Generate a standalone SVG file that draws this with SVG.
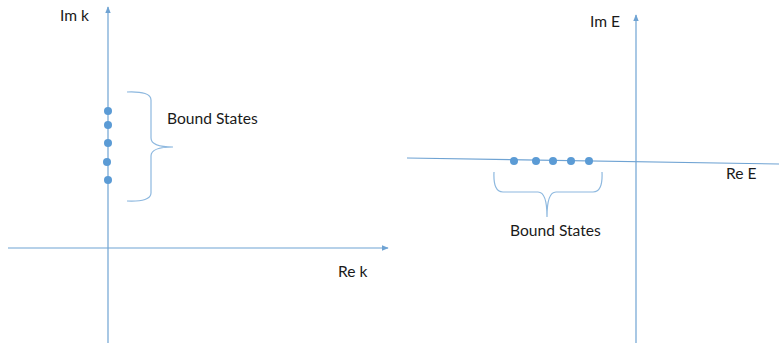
<svg xmlns="http://www.w3.org/2000/svg" width="779" height="347" viewBox="0 0 779 347">
<style>
.ax{stroke:#6fa3d3;stroke-width:1.2;fill:none}
.br{stroke:#8db8df;stroke-width:1.2;fill:none}
.dot{fill:#5b9bd5}
text{font-family:Lato,"Liberation Sans",sans-serif;font-size:15.6px;fill:#1a1a1a}
</style>
<defs>
<marker id="ar" viewBox="0 0 10 10" refX="9" refY="5" markerWidth="7" markerHeight="7" orient="auto" markerUnits="userSpaceOnUse">
<path d="M0,1 L10,5 L0,9 z" fill="#6fa3d3"/>
</marker>
</defs>
<g id="connectors">
<line class="ax" x1="108" y1="343" x2="108" y2="7" marker-end="url(#ar)"/>
<line class="ax" x1="8" y1="248" x2="388" y2="248" marker-end="url(#ar)"/>
<line class="ax" x1="636" y1="343" x2="636" y2="15" marker-end="url(#ar)"/>
<line class="ax" x1="407" y1="158" x2="779" y2="164"/>
</g>
<g id="left-plot">
<text x="60" y="21">Im k</text>
<text x="338" y="277">Re k</text>
<circle class="dot" cx="108" cy="111" r="4"/>
<circle class="dot" cx="108" cy="125" r="4"/>
<circle class="dot" cx="108" cy="143" r="4"/>
<circle class="dot" cx="107" cy="162" r="4"/>
<circle class="dot" cx="108" cy="180" r="4"/>
<path class="br" d="M127,92 Q151,91 151,100 L151,138 Q151,147 173,147 Q151,147 151,156 L151,193 Q151,202 127,201"/>
<text x="167" y="124">Bound States</text>
</g>
<g id="right-plot">
<text x="590" y="27">Im E</text>
<text x="726" y="179">Re E</text>
<circle class="dot" cx="514" cy="161" r="4"/>
<circle class="dot" cx="536" cy="161" r="4"/>
<circle class="dot" cx="553" cy="161" r="4"/>
<circle class="dot" cx="571" cy="161" r="4"/>
<circle class="dot" cx="589" cy="161" r="4"/>
<path class="br" d="M494,172 Q493,192 503,192 L538,192 Q547,192 547,217 Q547,192 556,192 L593,192 Q603,192 602,172"/>
<text x="510" y="236">Bound States</text>
</g>
</svg>
